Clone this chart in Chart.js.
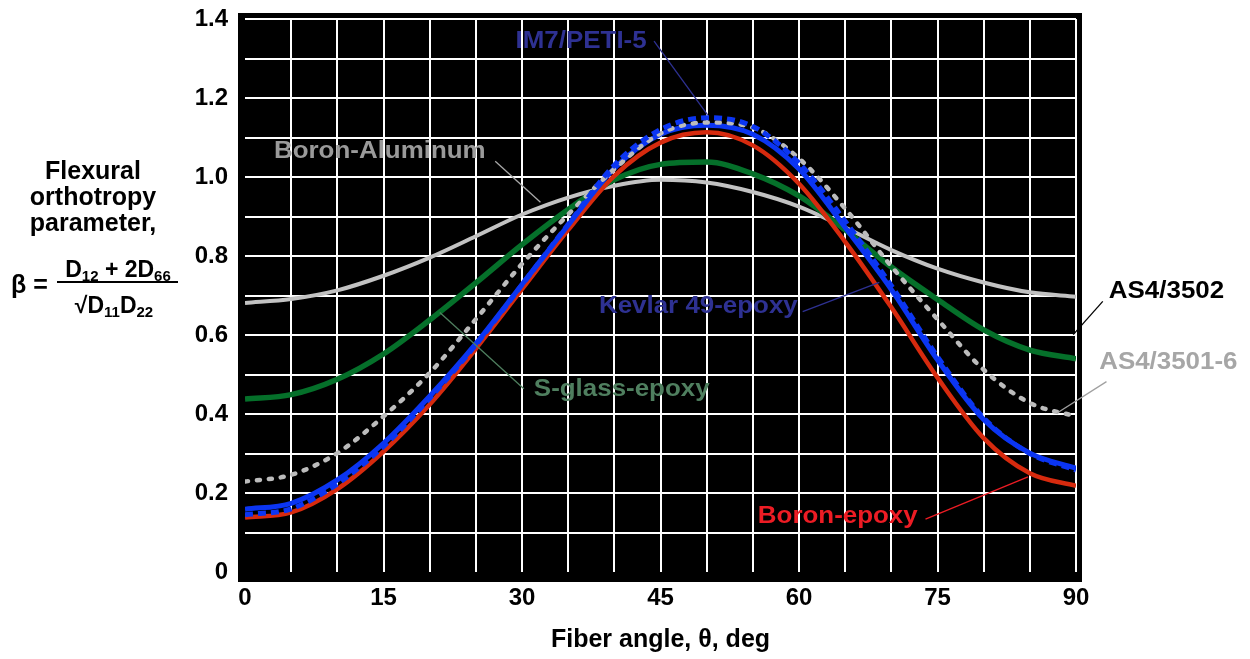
<!DOCTYPE html>
<html>
<head>
<meta charset="utf-8">
<title>Flexural orthotropy parameter vs fiber angle</title>
<script src="https://cdn.jsdelivr.net/npm/chart.js@4/dist/chart.umd.min.js"></script>
<style>
  html, body { margin: 0; padding: 0; background: #ffffff; }
  canvas { display: block; }
</style>
</head>
<body>
<canvas id="chart" width="1250" height="659"></canvas>
<script>
// Fiber angle, deg
const angles = [0, 5, 10, 15, 20, 25, 30, 35, 40, 45, 50, 55, 60, 65, 70, 75, 80, 85, 90];

// Flexural orthotropy parameter beta for each material
const boronAluminum = [0.681, 0.691, 0.713, 0.750, 0.796, 0.850, 0.905, 0.948, 0.978, 0.993, 0.986, 0.962, 0.925, 0.872, 0.815, 0.768, 0.733, 0.708, 0.697];
const sGlassEpoxy   = [0.438, 0.449, 0.488, 0.552, 0.638, 0.732, 0.829, 0.918, 0.993, 1.032, 1.038, 1.008, 0.952, 0.866, 0.772, 0.690, 0.613, 0.562, 0.540];
const boronEpoxy    = [0.138, 0.151, 0.210, 0.305, 0.424, 0.565, 0.716, 0.866, 1.003, 1.087, 1.113, 1.080, 0.983, 0.836, 0.670, 0.492, 0.339, 0.250, 0.218];
const kevlar49Epoxy = [0.159, 0.174, 0.233, 0.326, 0.445, 0.578, 0.728, 0.878, 1.022, 1.108, 1.131, 1.108, 1.020, 0.872, 0.715, 0.537, 0.386, 0.301, 0.263];
const im7Peti5      = [0.145, 0.160, 0.223, 0.318, 0.440, 0.575, 0.727, 0.880, 1.030, 1.120, 1.150, 1.128, 1.035, 0.888, 0.725, 0.545, 0.390, 0.300, 0.258];
const as4_3501_6    = [0.229, 0.246, 0.301, 0.394, 0.504, 0.640, 0.780, 0.905, 1.020, 1.110, 1.138, 1.125, 1.047, 0.920, 0.774, 0.640, 0.512, 0.428, 0.394];

// Labelled tick values
const xTickLabels = [0, 15, 30, 45, 60, 75, 90];
const yTickLabels = [0, 0.2, 0.4, 0.6, 0.8, 1.0, 1.2, 1.4];

const FONT = '"Liberation Sans", Arial, Helvetica, sans-serif';

const toPoints = (values) => angles.map((a, i) => ({ x: a, y: values[i] }));

// Curve labels with leader lines, anchored in axis units (angle, beta)
const curveLabels = [
  { text: 'IM7/PETI-5',      color: '#2e3192', lineColor: '#2e3192', at: [36.4, 1.344], from: [44.3, 1.344], to: [50.1, 1.157] },
  { text: 'Boron-Aluminum',  color: '#9a9a9a', lineColor: '#a8a8a8', at: [14.6, 1.065], from: [27.1, 1.040], to: [32.0, 0.936] },
  { text: 'S-glass-epoxy',   color: '#4f7f5f', lineColor: '#4f7f5f', at: [40.8, 0.462], from: [30.2, 0.464], to: [21.1, 0.657] },
  { text: 'Kevlar 49-epoxy', color: '#2e3192', lineColor: '#2e3192', at: [49.1, 0.672], from: [60.4, 0.659], to: [68.7, 0.733] },
  { text: 'AS4/3502',        color: '#000000', lineColor: '#000000', at: [99.8, 0.710], from: [92.9, 0.685], to: [89.7, 0.601] },
  { text: 'AS4/3501-6',      color: '#a6a6a6', lineColor: '#a0a0a0', at: [100.0, 0.530], from: [93.3, 0.482], to: [88.0, 0.403] },
  { text: 'Boron-epoxy',     color: '#ed1c24', lineColor: '#ed1c24', at: [64.2, 0.142], from: [73.7, 0.134], to: [84.8, 0.241] }
];

// Black plot panel behind the white grid
const panelPlugin = {
  id: 'panel',
  beforeDraw(chart) {
    const { ctx, chartArea: a } = chart;
    ctx.save();
    ctx.fillStyle = '#000000';
    ctx.fillRect(a.left - 7, a.top - 6, (a.right + 6) - (a.left - 7), (a.bottom + 10) - (a.top - 6));
    ctx.restore();
  }
};

function stretchedText(ctx, text, x, y, sx) {
  ctx.save();
  ctx.translate(x, y);
  ctx.scale(sx, 1);
  ctx.fillText(text, 0, 0);
  ctx.restore();
}

// Curve labels and their leader lines
const labelPlugin = {
  id: 'curveLabels',
  afterDatasetsDraw(chart) {
    const { ctx, scales: { x, y } } = chart;
    ctx.save();
    ctx.font = 'bold 24px ' + FONT;
    ctx.textAlign = 'center';
    ctx.textBaseline = 'middle';
    curveLabels.forEach((l) => {
      ctx.strokeStyle = l.lineColor;
      ctx.lineWidth = 1.3;
      ctx.beginPath();
      ctx.moveTo(x.getPixelForValue(l.from[0]), y.getPixelForValue(l.from[1]));
      ctx.lineTo(x.getPixelForValue(l.to[0]), y.getPixelForValue(l.to[1]));
      ctx.stroke();
      ctx.fillStyle = l.color;
      stretchedText(ctx, l.text, x.getPixelForValue(l.at[0]), y.getPixelForValue(l.at[1]), 1.08);
    });
    ctx.restore();
  }
};

function runsWidth(ctx, runs) {
  let w = 0;
  runs.forEach((r) => { ctx.font = 'bold ' + r.size + 'px ' + FONT; w += ctx.measureText(r.t).width; });
  return w;
}

function drawRuns(ctx, cx, baseline, runs) {
  let xPos = cx - runsWidth(ctx, runs) / 2;
  ctx.textAlign = 'left';
  ctx.textBaseline = 'alphabetic';
  runs.forEach((r) => {
    ctx.font = 'bold ' + r.size + 'px ' + FONT;
    ctx.fillText(r.t, xPos, baseline + (r.dy || 0));
    xPos += ctx.measureText(r.t).width;
  });
}

// Vertical-axis caption with the definition of beta
const yCaptionPlugin = {
  id: 'yCaption',
  afterDraw(chart) {
    const ctx = chart.ctx;
    ctx.save();
    ctx.fillStyle = '#000000';
    ctx.font = 'bold 25px ' + FONT;
    ctx.textAlign = 'center';
    ctx.textBaseline = 'alphabetic';
    ctx.fillText('Flexural', 93, 179);
    ctx.fillText('orthotropy', 93, 205);
    ctx.fillText('parameter,', 93, 231);

    ctx.textAlign = 'left';
    ctx.font = 'bold 25px ' + FONT;
    ctx.fillText('\u03B2 =', 11, 293);

    drawRuns(ctx, 118, 277, [
      { t: 'D', size: 23 }, { t: '12', size: 15, dy: 4 },
      { t: ' + 2D', size: 23 }, { t: '66', size: 15, dy: 4 }
    ]);
    ctx.fillRect(57, 281, 121, 2);
    drawRuns(ctx, 114, 313, [
      { t: '\u221A', size: 23 }, { t: 'D', size: 23 }, { t: '11', size: 15, dy: 4 },
      { t: 'D', size: 23 }, { t: '22', size: 15, dy: 4 }
    ]);
    ctx.restore();
  }
};

const gridColor = (c) => (c.tick && Math.abs(c.tick.value) < 1e-9) ? 'rgba(0,0,0,0)' : '#ffffff';

new Chart(document.getElementById('chart'), {
  type: 'line',
  data: {
    datasets: [
      { label: 'IM7/PETI-5', data: toPoints(im7Peti5), borderColor: '#0b35f2', borderWidth: 5, borderDash: [8, 5] },
      { label: 'AS4/3501-6', data: toPoints(as4_3501_6), borderColor: '#bcbcbc', borderWidth: 4.5, borderDash: [3, 9], borderCapStyle: 'round' },
      { label: 'Kevlar 49-epoxy', data: toPoints(kevlar49Epoxy), borderColor: '#0b35f2', borderWidth: 5 },
      { label: 'Boron-epoxy', data: toPoints(boronEpoxy), borderColor: '#d62a0e', borderWidth: 4.5 },
      { label: 'S-glass-epoxy', data: toPoints(sGlassEpoxy), borderColor: '#05702a', borderWidth: 5.5 },
      { label: 'Boron-Aluminum', data: toPoints(boronAluminum), borderColor: '#c2c2c2', borderWidth: 4 }
    ]
  },
  options: {
    responsive: false,
    animation: false,
    devicePixelRatio: 1,
    layout: { padding: { left: 0, top: 19, right: 174, bottom: 0 } },
    elements: {
      point: { radius: 0 },
      line: { cubicInterpolationMode: 'monotone', fill: false }
    },
    plugins: {
      legend: { display: false },
      tooltip: { enabled: false }
    },
    scales: {
      x: {
        type: 'linear',
        min: 0,
        max: 90,
        afterFit: (s) => { s.height = 87; },
        border: { display: false },
        grid: { color: gridColor, lineWidth: 2, drawTicks: false },
        ticks: {
          stepSize: 5,
          autoSkip: false,
          maxRotation: 0,
          padding: 12,
          color: '#000000',
          font: { family: FONT, size: 24, weight: 'bold' },
          callback: (v) => xTickLabels.includes(Math.round(v)) && Math.abs(v - Math.round(v)) < 1e-6 ? String(Math.round(v)) : ''
        },
        title: {
          display: true,
          text: 'Fiber angle, \u03B8, deg',
          color: '#000000',
          font: { family: FONT, size: 25, weight: 'bold' },
          padding: { top: 0, bottom: 4 }
        }
      },
      y: {
        type: 'linear',
        min: 0,
        max: 1.4,
        afterFit: (s) => { s.width = 245; s.paddingTop = 0; s.paddingBottom = 0; },
        border: { display: false },
        grid: { color: gridColor, lineWidth: 2, drawTicks: false },
        ticks: {
          stepSize: 0.1,
          autoSkip: false,
          padding: 17,
          color: '#000000',
          font: { family: FONT, size: 24, weight: 'bold' },
          callback: (v) => {
            const hit = yTickLabels.find((l) => Math.abs(l - v) < 1e-6);
            if (hit === undefined) return '';
            return hit === 0 ? '0' : hit.toFixed(1);
          }
        }
      }
    }
  },
  plugins: [panelPlugin, labelPlugin, yCaptionPlugin]
});
</script>
</body>
</html>
